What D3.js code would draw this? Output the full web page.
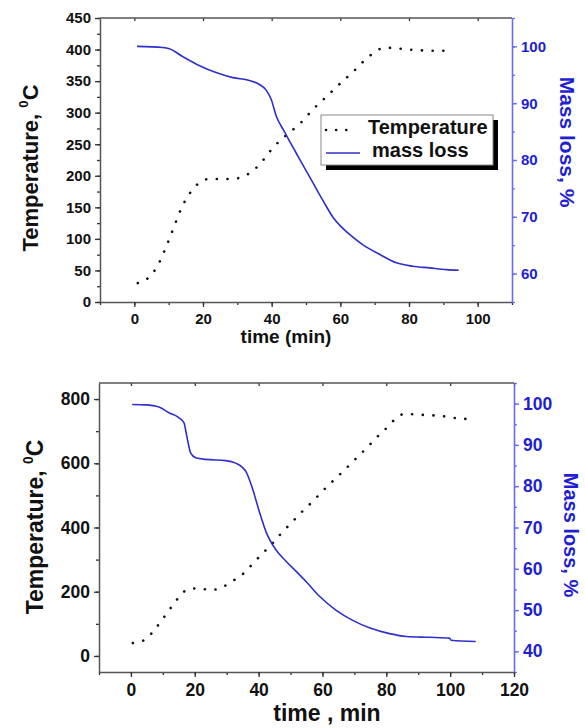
<!DOCTYPE html>
<html lang="en">
<head>
<meta charset="UTF-8">
<title>TGA curves</title>
<script src="https://d3js.org/d3.v7.min.js"></script>
<style>
  body { margin: 0; background: #fff; }
  svg { display: block; font-family: "Liberation Sans", Arial, sans-serif; font-weight: bold; }
</style>
</head>
<body>
<svg id="chart" width="585" height="728"></svg>
<script>
// ---- top panel data ----
let topTempTime = [1, 4, 6.4, 8, 9.2, 10.5, 11.7, 12.8, 14.2, 16, 18.5, 21.9, 25.3, 28.5, 31.8, 35, 37.7, 40, 42.5, 45.5, 48.5, 52, 54.9, 57.8, 60.7, 63.8, 66.5, 69.8, 72.9, 76.3, 79.7, 83, 86.5, 89.9, 92.8];
let topTemp     = [30, 38, 54, 71, 87, 104, 121, 137, 154, 171, 187, 195, 195, 195, 199, 210, 226, 242, 256, 270, 284, 305, 320, 335, 350, 365, 380, 395, 403, 402, 400, 399, 398, 398, 398];
let topMassTime = [0.8, 8.3, 10.2, 14.1, 19, 23.8, 28.7, 33.5, 36.4, 38.4, 39.9, 41.3, 43.5, 45.5, 48, 52, 55, 58, 60, 62.7, 66.5, 71.4, 76.3, 81.1, 86, 90.9, 94.5];
let topMass     = [100, 99.8, 99.6, 98.2, 96.6, 95.4, 94.5, 94, 93.3, 92.3, 90.6, 87.8, 85.2, 83, 80.3, 76, 72.8, 69.8, 68.4, 66.9, 65.1, 63.4, 61.9, 61.3, 61, 60.7, 60.6];

// ---- bottom panel data ----
let botTempTime = [0.6, 4.3, 7.4, 9.8, 12.2, 14.7, 17.6, 21.3, 24.8, 28.4, 32.1, 35.4, 38.6, 41.7, 44.3, 47, 50.2, 53.4, 56.9, 60.2, 63.5, 66.8, 70.3, 73.7, 76.8, 79.4, 82.5, 85.7, 89.4, 93, 96.7, 100.3, 104, 107.7];
let botTemp     = [40, 50, 82, 113, 146, 179, 206, 211, 205, 213, 235, 258, 292, 324, 350, 381, 414, 447, 481, 515, 547, 578, 613, 646, 679, 703, 735, 754, 752, 750, 748, 743, 738, 742];
let botMassTime = [0.4, 4.6, 8.8, 11.9, 15, 16.6, 17.6, 18.7, 20.3, 23.4, 29.7, 32.8, 36, 38, 40.2, 42.3, 45.4, 48.5, 52, 55, 59, 64.2, 69.5, 74.7, 81, 86.2, 93.5, 99.8, 100.3, 108];
let botMass     = [99.8, 99.7, 99.2, 97.8, 96.6, 95.4, 91.7, 88.1, 86.9, 86.5, 86.2, 85.6, 83.6, 79.6, 73.9, 69, 64.6, 61.9, 59.2, 56.8, 53.4, 50, 47.5, 45.7, 44.3, 43.6, 43.4, 43.2, 42.7, 42.4];

// ---- ticks / labels ----
let topXTicks = [0, 20, 40, 60, 80, 100];
let topYTicks = [0, 50, 100, 150, 200, 250, 300, 350, 400, 450];
let topRTicks = [60, 70, 80, 90, 100];
let botXTicks = [0, 20, 40, 60, 80, 100, 120];
let botYTicks = [0, 200, 400, 600, 800];
let botRTicks = [40, 50, 60, 70, 80, 90, 100];
let legendNames = ["Temperature", "mass loss"];

const blueLine = "#2f2fcc";
const blueAxis = "#6a6af2";
const blueText = "#1e1ed2";

let svg = d3.select("#chart");

let drawPanel = (p) => {
    let x = d3.scaleLinear().domain(p.xDom).range([p.left, p.right]);
    let y = d3.scaleLinear().domain(p.yDom).range([p.bottom, p.top]);
    let yr = d3.scaleLinear().domain(p.rDom).range([p.bottom, p.top]);
    let g = svg.append("g");

    // minor ticks
    let minor = (axis, scale, step, pos, color) => {
        let d = scale.domain();
        let vals = d3.range(Math.ceil(d[0] / step) * step, d[1] + 0.001, step);
        g.append("g").attr("transform", pos)
            .call(axis(scale).tickValues(vals).tickSize(3).tickFormat(""))
            .call(s => s.select(".domain").remove())
            .call(s => s.selectAll("line").attr("stroke", color).attr("stroke-width", 1.3));
    };
    minor(d3.axisBottom, x, p.xMinor, `translate(0,${p.bottom})`, "#333");
    minor(d3.axisLeft, y, p.yMinor, `translate(${p.left},0)`, "#333");
    minor(d3.axisRight, yr, p.rMinor, `translate(${p.right},0)`, blueAxis);
    g.append("g").attr("transform", `translate(0,${p.top})`)
        .call(d3.axisBottom(x).tickValues(p.xTicks).tickSize(3).tickFormat(""))
        .call(s => s.select(".domain").remove())
        .call(s => s.selectAll("line").attr("stroke", "#333").attr("stroke-width", 1.3));

    // top frame line
    g.append("line").attr("x1", p.left).attr("x2", p.right)
        .attr("y1", p.top).attr("y2", p.top)
        .attr("stroke", "#555").attr("stroke-width", 1.5);

    let xa = g.append("g").attr("transform", `translate(0,${p.bottom})`)
        .call(d3.axisBottom(x).tickValues(p.xTicks).tickSize(5).tickSizeOuter(0).tickPadding(p.tickPad));
    let ya = g.append("g").attr("transform", `translate(${p.left},0)`)
        .call(d3.axisLeft(y).tickValues(p.yTicks).tickSize(5).tickSizeOuter(0).tickPadding(4));
    let ra = g.append("g").attr("transform", `translate(${p.right},0)`)
        .call(d3.axisRight(yr).tickValues(p.rTicks).tickSize(5).tickSizeOuter(0).tickPadding(4));

    [xa, ya].forEach(a => {
        a.select(".domain").attr("stroke", "#555").attr("stroke-width", 1.5);
        a.selectAll("line").attr("stroke", "#333").attr("stroke-width", 1.3);
        a.selectAll("text").attr("fill", "#111").style("font-size", p.tickFont + "px").style("font-weight", "bold");
    });
    ra.select(".domain").attr("stroke", blueAxis).attr("stroke-width", 1.6);
    ra.selectAll("line").attr("stroke", blueAxis).attr("stroke-width", 1.3);
    ra.selectAll("text").attr("fill", blueText).style("font-size", p.tickFont + "px").style("font-weight", "bold");

    // series
    let tempPts = p.tTime.map((t, i) => [t, p.temp[i]]);
    let massPts = p.mTime.map((t, i) => [t, p.mass[i]]);
    g.append("path").datum(tempPts)
        .attr("d", d3.line().x(d => x(d[0])).y(d => y(d[1])).curve(d3.curveMonotoneX))
        .attr("fill", "none").attr("stroke", "#111").attr("stroke-width", 2.6)
        .attr("stroke-linecap", "round").attr("stroke-dasharray", "0.1 10.6");
    g.append("path").datum(massPts)
        .attr("d", d3.line().x(d => x(d[0])).y(d => yr(d[1])).curve(d3.curveMonotoneX))
        .attr("fill", "none").attr("stroke", blueLine).attr("stroke-width", 1.6);

    // axis titles
    g.append("text").attr("x", p.xTitle[0]).attr("y", p.xTitle[1])
        .attr("text-anchor", "middle").style("font-size", p.xTitleFont + "px")
        .attr("fill", "#111").text(p.xLabel);

    let lt = g.append("text")
        .attr("transform", `translate(${p.lTitle[0]},${p.lTitle[1]}) rotate(-90)`)
        .attr("text-anchor", "middle").style("font-size", p.titleFont + "px").attr("fill", "#111");
    lt.append("tspan").text("Temperature, ");
    lt.append("tspan").attr("dy", -p.titleFont * 0.45).style("font-size", (p.titleFont * 0.6) + "px").text("0");
    lt.append("tspan").attr("dy", p.titleFont * 0.45).text("C");

    g.append("text")
        .attr("transform", `translate(${p.rTitle[0]},${p.rTitle[1]}) rotate(90)`)
        .attr("text-anchor", "middle").style("font-size", p.rTitleFont + "px")
        .attr("fill", blueText).text("Mass loss, %");
};

drawPanel({
    left: 100, right: 512, top: 18, bottom: 302,
    xDom: [-10, 110], yDom: [0, 450], rDom: [55, 105],
    xTicks: topXTicks, yTicks: topYTicks, rTicks: topRTicks,
    xMinor: 10, yMinor: 25, rMinor: 5,
    tickFont: 15, tickPad: 6,
    tTime: topTempTime, temp: topTemp, mTime: topMassTime, mass: topMass,
    xLabel: "time (min)", xTitle: [286, 343], xTitleFont: 19,
    lTitle: [38, 168], titleFont: 22,
    rTitle: [560, 142], rTitleFont: 21
});

drawPanel({
    left: 99, right: 514, top: 383, bottom: 672,
    xDom: [-10, 120], yDom: [-50, 850], rDom: [35, 105],
    xTicks: botXTicks, yTicks: botYTicks, rTicks: botRTicks,
    xMinor: 10, yMinor: 100, rMinor: 5,
    tickFont: 17.5, tickPad: 7,
    tTime: botTempTime, temp: botTemp, mTime: botMassTime, mass: botMass,
    xLabel: "time , min", xTitle: [327, 721], xTitleFont: 23,
    lTitle: [43, 527], titleFont: 23,
    rTitle: [564, 535], rTitleFont: 20
});

// legend of the top panel
let lg = svg.append("g").attr("transform", "translate(321,115)");
lg.append("rect").attr("x", 5).attr("y", 5).attr("width", 172).attr("height", 50).attr("fill", "#000");
lg.append("rect").attr("x", 0).attr("y", 0).attr("width", 172).attr("height", 50)
    .attr("fill", "#fff").attr("stroke", "#888").attr("stroke-width", 1);
lg.append("line").attr("x1", 5).attr("x2", 30).attr("y1", 15).attr("y2", 15)
    .attr("stroke", "#111").attr("stroke-width", 2.6).attr("stroke-linecap", "round").attr("stroke-dasharray", "0.1 10");
lg.append("line").attr("x1", 5).attr("x2", 39).attr("y1", 38).attr("y2", 38)
    .attr("stroke", blueLine).attr("stroke-width", 1.6);
lg.selectAll("text.lt").data(legendNames).enter().append("text")
    .attr("class", "lt")
    .attr("x", (d, i) => i === 0 ? 47 : 51)
    .attr("y", (d, i) => i === 0 ? 19 : 42)
    .style("font-size", "20px").attr("fill", "#111")
    .text(d => d);
</script>
</body>
</html>
